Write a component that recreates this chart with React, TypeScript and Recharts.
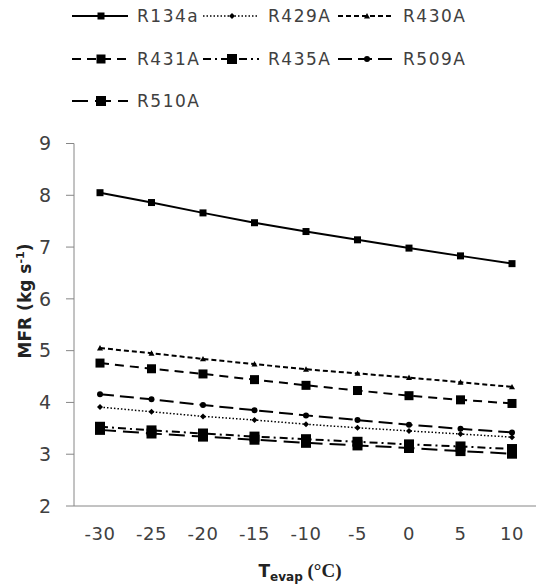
import React from 'react';
import { LineChart, Line, XAxis, YAxis, Legend } from 'recharts';

const temps = [-30, -25, -20, -15, -10, -5, 0, 5, 10];
const r134a = [8.05, 7.86, 7.66, 7.47, 7.3, 7.14, 6.98, 6.83, 6.68];
const r429a = [3.91, 3.82, 3.73, 3.66, 3.58, 3.51, 3.45, 3.39, 3.33];
const r430a = [5.05, 4.95, 4.84, 4.74, 4.64, 4.56, 4.48, 4.39, 4.3];
const r431a = [4.76, 4.65, 4.55, 4.44, 4.33, 4.23, 4.13, 4.05, 3.98];
const r435a = [3.53, 3.46, 3.4, 3.34, 3.29, 3.24, 3.19, 3.15, 3.1];
const r509a = [4.16, 4.06, 3.95, 3.85, 3.75, 3.66, 3.57, 3.49, 3.42];
const r510a = [3.47, 3.4, 3.34, 3.28, 3.22, 3.17, 3.12, 3.06, 3.01];
const yTicks = [2, 3, 4, 5, 6, 7, 8, 9];

type Shape = 'square' | 'diamond' | 'triangle' | 'circle';
interface Series { name: string; key: string; values: number[]; dash?: string; shape: Shape; size: number; width: number; }

const series: Series[] = [
  { name: 'R134a', key: 'r134a', values: r134a, dash: undefined, shape: 'square', size: 7, width: 2 },
  { name: 'R429A', key: 'r429a', values: r429a, dash: '1.5 2', shape: 'diamond', size: 6, width: 1.5 },
  { name: 'R430A', key: 'r430a', values: r430a, dash: '5 3', shape: 'triangle', size: 6, width: 2 },
  { name: 'R431A', key: 'r431a', values: r431a, dash: '9 6', shape: 'square', size: 9, width: 2 },
  { name: 'R435A', key: 'r435a', values: r435a, dash: '8 4 2 4', shape: 'square', size: 10, width: 2 },
  { name: 'R509A', key: 'r509a', values: r509a, dash: '14 6', shape: 'circle', size: 6, width: 2 },
  { name: 'R510A', key: 'r510a', values: r510a, dash: '16 7', shape: 'square', size: 10, width: 2 },
];

const data = temps.map((t, i) => {
  const row: Record<string, number> = { t };
  series.forEach((s) => { row[s.key] = s.values[i]; });
  return row;
});

const FONT = '"DejaVu Sans", sans-serif';
const AXIS = '#868686';
const TXT = '#404040';

function Marker({ cx, cy, shape, size }: { cx: number; cy: number; shape: Shape; size: number }) {
  const h = size / 2;
  if (shape === 'square') return <rect x={cx - h} y={cy - h} width={size} height={size} fill="#000" />;
  if (shape === 'diamond') return <polygon points={`${cx},${cy - h} ${cx + h},${cy} ${cx},${cy + h} ${cx - h},${cy}`} fill="#000" />;
  if (shape === 'triangle') return <polygon points={`${cx},${cy - h} ${cx + h},${cy + h * 0.8} ${cx - h},${cy + h * 0.8}`} fill="#000" />;
  return <circle cx={cx} cy={cy} r={h} fill="#000" />;
}

const legendCols = [72, 203, 338];
const legendRows = [16, 59, 101];

function LegendContent() {
  return (
    <svg width={536} height={120} style={{ display: 'block' }}>
      {series.map((s, i) => {
        const x0 = legendCols[i % 3];
        const y = legendRows[Math.floor(i / 3)];
        return (
          <g key={s.key}>
            <line x1={x0} y1={y} x2={x0 + 56} y2={y} stroke="#000" strokeWidth={s.width} strokeDasharray={s.dash} />
            <Marker cx={x0 + 29} cy={y} shape={s.shape} size={s.size} />
            <text x={x0 + 65} y={y + 6} fontFamily={FONT} fontSize={17} fill={TXT} letterSpacing={1.5}>{s.name}</text>
          </g>
        );
      })}
    </svg>
  );
}

function YLabel() {
  return (
    <text transform="translate(31,301) rotate(-90)" textAnchor="middle" fontFamily={FONT} fontWeight="bold" fontSize={17} fill="#222">
      <tspan>MFR (kg s</tspan>
      <tspan fontSize={11} dy={-7}>-1</tspan>
      <tspan dy={7}>)</tspan>
    </text>
  );
}

function XLabel() {
  return (
    <text x={300} y={577} textAnchor="middle" fontFamily={FONT} fontWeight="bold" fontSize={17} fill="#222">
      <tspan>T</tspan>
      <tspan fontSize={12} dy={4}>evap</tspan>
      <tspan dy={-4} fontFamily='"Liberation Serif", serif' fontSize={19}> (°C)</tspan>
    </text>
  );
}

export default function App() {
  return (
    <div style={{ position: 'absolute', left: 0, top: 0, width: 536, height: 588, background: '#fff' }}>
      <LineChart width={536} height={588} data={data} margin={{ top: 143.5, right: 0, bottom: 52, left: 0 }}>
        <XAxis
          dataKey="t"
          height={30}
          padding={{ left: 26, right: 24 }}
          tickLine={false}
          tickSize={0}
          tickMargin={21}
          axisLine={{ stroke: AXIS }}
          tick={{ fill: TXT, fontSize: 18, fontFamily: FONT, letterSpacing: 0.5 }}
          label={<XLabel />}
        />
        <YAxis
          width={74}
          domain={[2, 9]}
          ticks={yTicks}
          interval={0}
          tickSize={8}
          tickMargin={15}
          axisLine={{ stroke: AXIS }}
          tickLine={{ stroke: AXIS }}
          tick={{ fill: TXT, fontSize: 19, fontFamily: FONT }}
          label={<YLabel />}
        />
        <Legend layout="vertical" align="center" verticalAlign="middle" wrapperStyle={{ left: 0, top: 0, width: 536, height: 120 }} content={<LegendContent />} />
        {series.map((s) => (
          <Line
            key={s.key}
            dataKey={s.key}
            name={s.name}
            stroke="#000"
            strokeWidth={s.width}
            strokeDasharray={s.dash}
            isAnimationActive={false}
            dot={(p: any) => <Marker key={`${s.key}-${p.index}`} cx={p.cx} cy={p.cy} shape={s.shape} size={s.size} />}
            activeDot={false}
          />
        ))}
      </LineChart>
    </div>
  );
}
